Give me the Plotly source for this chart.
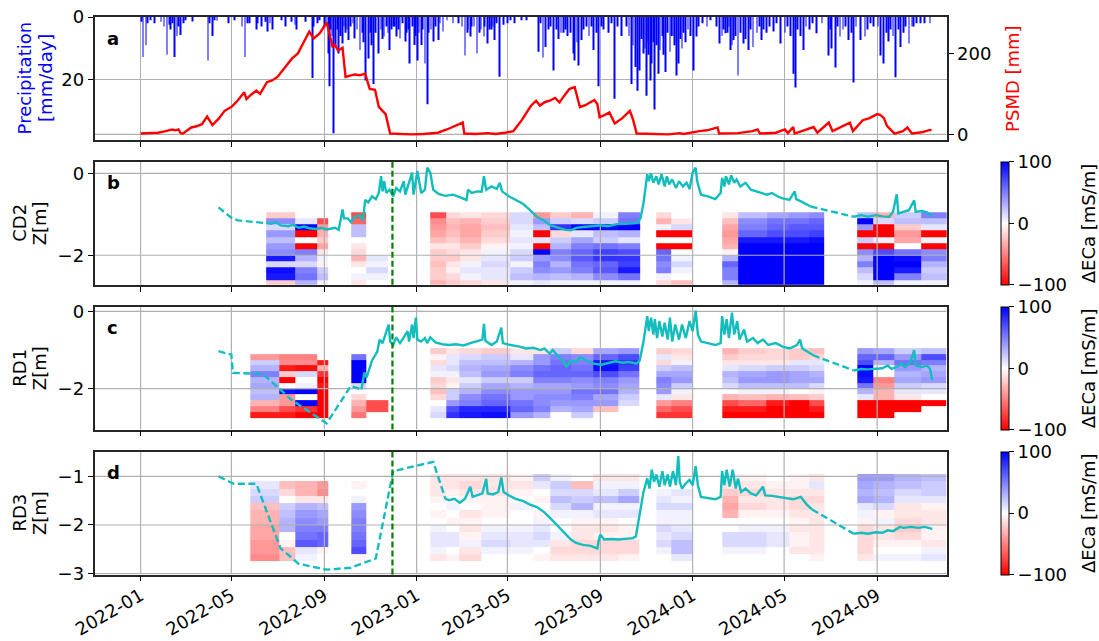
import plotly.graph_objects as go

W, H = 1099, 641
FONT = "DejaVu Sans"
FS = 18

# ---------------- panel a: daily precipitation [mm/day] ----------------
PRECIP_DATES = [
    "2022-01-02", "2022-01-04", "2022-01-08", "2022-01-10", "2022-01-14", "2022-01-19", "2022-01-28",
    "2022-02-01", "2022-02-05", "2022-02-08", "2022-02-10", "2022-02-12", "2022-02-15", "2022-02-18",
    "2022-02-20", "2022-02-23", "2022-02-27", "2022-03-01", "2022-03-11", "2022-03-31", "2022-04-02",
    "2022-04-06", "2022-04-09", "2022-04-12", "2022-04-27", "2022-05-05", "2022-05-15", "2022-05-19",
    "2022-05-22", "2022-05-25", "2022-06-03", "2022-06-05", "2022-06-10", "2022-06-15", "2022-06-18",
    "2022-06-21", "2022-06-24", "2022-07-06", "2022-07-12", "2022-07-20", "2022-07-24", "2022-07-26",
    "2022-08-07", "2022-08-16", "2022-08-18", "2022-08-23", "2022-08-26", "2022-09-01", "2022-09-03",
    "2022-09-06", "2022-09-08", "2022-09-09", "2022-09-11", "2022-09-13", "2022-09-16", "2022-09-18",
    "2022-09-20", "2022-09-22", "2022-09-25", "2022-09-27", "2022-09-29", "2022-10-01", "2022-10-03",
    "2022-10-06", "2022-10-09", "2022-10-11", "2022-10-14", "2022-10-18", "2022-10-21", "2022-10-23",
    "2022-10-25", "2022-10-29", "2022-11-01", "2022-11-02", "2022-11-05", "2022-11-08", "2022-11-12",
    "2022-11-15", "2022-11-17", "2022-11-19", "2022-11-22", "2022-11-24", "2022-11-26", "2022-11-29",
    "2022-12-01", "2022-12-03", "2022-12-05", "2022-12-08", "2022-12-10", "2022-12-13", "2022-12-17",
    "2022-12-19", "2022-12-21", "2022-12-23", "2022-12-27", "2022-12-29", "2022-12-31", "2023-01-02",
    "2023-01-04", "2023-01-07", "2023-01-09", "2023-01-12", "2023-01-15", "2023-01-17", "2023-01-20",
    "2023-01-23", "2023-01-26", "2023-01-30", "2023-02-01", "2023-02-05", "2023-02-10", "2023-02-18",
    "2023-02-25", "2023-03-02", "2023-03-06", "2023-03-09", "2023-03-10", "2023-03-13", "2023-03-15",
    "2023-03-18", "2023-03-22", "2023-03-25", "2023-03-27", "2023-03-31", "2023-04-01", "2023-04-05",
    "2023-04-07", "2023-04-10", "2023-04-12", "2023-04-14", "2023-04-17", "2023-04-21", "2023-04-26",
    "2023-05-01", "2023-05-05", "2023-05-10", "2023-05-20", "2023-05-26", "2023-06-11", "2023-06-14",
    "2023-06-17", "2023-06-20", "2023-06-24", "2023-06-27", "2023-07-01", "2023-07-05", "2023-07-08",
    "2023-07-11", "2023-07-14", "2023-07-17", "2023-07-20", "2023-07-23", "2023-07-27", "2023-07-29",
    "2023-08-01", "2023-08-03", "2023-08-07", "2023-08-10", "2023-08-14", "2023-08-17", "2023-08-20",
    "2023-08-23", "2023-08-27", "2023-08-30", "2023-09-02", "2023-09-05", "2023-09-12", "2023-09-16",
    "2023-09-20", "2023-09-24", "2023-09-29", "2023-10-06", "2023-10-09", "2023-10-12", "2023-10-14",
    "2023-10-17", "2023-10-20", "2023-10-23", "2023-10-25", "2023-10-28", "2023-10-30", "2023-11-01",
    "2023-11-03", "2023-11-04", "2023-11-06", "2023-11-08", "2023-11-10", "2023-11-12", "2023-11-14",
    "2023-11-17", "2023-11-19", "2023-11-22", "2023-11-23", "2023-11-26", "2023-11-29", "2023-12-02",
    "2023-12-04", "2023-12-06", "2023-12-08", "2023-12-11", "2023-12-13", "2023-12-16", "2023-12-18",
    "2023-12-20", "2023-12-23", "2023-12-26", "2023-12-29", "2024-01-02", "2024-01-06", "2024-01-09",
    "2024-01-14", "2024-01-20", "2024-01-25", "2024-02-02", "2024-02-06", "2024-02-09", "2024-02-11",
    "2024-02-13", "2024-02-16", "2024-02-18", "2024-02-20", "2024-02-22", "2024-02-24", "2024-02-27",
    "2024-03-01", "2024-03-04", "2024-03-08", "2024-03-11", "2024-03-15", "2024-03-18", "2024-03-21",
    "2024-03-26", "2024-03-29", "2024-04-01", "2024-04-04", "2024-04-08", "2024-04-12", "2024-04-17",
    "2024-04-21", "2024-04-26", "2024-05-02", "2024-05-05", "2024-05-09", "2024-05-13", "2024-05-16",
    "2024-05-19", "2024-05-23", "2024-05-27", "2024-05-30", "2024-06-04", "2024-06-08", "2024-06-13",
    "2024-06-20", "2024-06-29", "2024-07-01", "2024-07-03", "2024-07-08", "2024-07-11", "2024-07-14",
    "2024-07-18", "2024-07-21", "2024-07-25", "2024-07-29", "2024-08-01", "2024-08-04", "2024-08-10",
    "2024-08-16", "2024-08-19", "2024-08-23", "2024-08-27", "2024-09-02", "2024-09-05", "2024-09-09",
    "2024-09-13", "2024-09-16", "2024-09-19", "2024-09-22", "2024-09-25", "2024-09-29", "2024-10-02",
    "2024-10-06", "2024-10-09", "2024-10-13", "2024-10-17", "2024-10-19", "2024-10-23", "2024-10-28",
    "2024-11-03", "2024-11-10",
]
PRECIP_MM = [
    1.5, 12.7, 9.0, 2.0, 1.0, 2.0, 1.5,
    3.0, 12.0, 2.5, 4.0, 2.0, 12.7, 6.0,
    3.0, 5.7, 2.0, 1.0, 1.4, 13.8, 2.0,
    6.0, 1.0, 1.2, 2.0, 1.0, 3.0, 12.7,
    2.0, 2.0, 4.0, 2.0, 3.0, 1.5, 4.6,
    2.0, 4.0, 1.0, 3.0, 1.5, 2.5, 4.0,
    1.5, 19.4, 3.0, 2.0, 1.0, 3.0, 2.0,
    11.6, 22.0, 4.0, 6.0, 36.9, 9.5, 4.0,
    11.6, 6.0, 8.4, 3.0, 5.0, 4.0, 7.3,
    3.0, 2.0, 6.8, 4.0, 10.5, 5.0, 8.0,
    20.2, 13.2, 5.0, 9.0, 21.3, 5.0, 11.6,
    4.0, 7.0, 6.2, 3.0, 5.0, 10.5, 4.0,
    3.0, 3.0, 6.2, 4.0, 6.8, 2.0, 7.8,
    5.0, 4.0, 14.8, 3.0, 8.9, 6.0, 13.8,
    5.0, 8.9, 4.0, 14.8, 27.7, 5.0, 4.0,
    7.8, 3.0, 7.3, 2.0, 4.6, 1.0, 2.0,
    2.0, 3.0, 12.2, 5.0, 4.0, 6.2, 3.0,
    3.0, 11.6, 5.0, 4.0, 6.2, 3.0, 8.4,
    4.0, 4.0, 3.0, 7.3, 2.0, 19.0, 2.5,
    2.0, 1.0, 2.0, 1.0, 1.0, 11.0, 2.0,
    12.9, 9.5, 4.0, 3.0, 17.0, 4.0, 7.0,
    5.0, 5.0, 4.0, 6.0, 5.0, 11.6, 13.8,
    8.0, 15.4, 7.3, 4.0, 3.0, 6.0, 3.0,
    10.5, 5.0, 22.0, 3.0, 4.0, 5.0, 2.0,
    26.0, 3.0, 6.0, 3.0, 6.0, 21.3, 9.0,
    15.9, 23.4, 17.0, 7.0, 11.6, 10.0, 25.0,
    8.0, 12.0, 20.2, 14.8, 8.0, 29.4, 9.0,
    18.0, 10.5, 6.0, 12.0, 17.5, 5.0, 11.0,
    6.0, 6.0, 9.0, 18.6, 14.8, 7.0, 10.0,
    5.0, 8.0, 4.0, 6.0, 17.0, 6.2, 3.0,
    2.0, 3.0, 1.0, 3.0, 8.4, 6.0, 4.0,
    5.2, 5.0, 3.0, 10.5, 9.0, 7.3, 6.0,
    18.6, 5.0, 8.4, 7.0, 10.5, 4.0, 9.5,
    5.0, 3.0, 7.3, 4.0, 5.0, 3.0, 4.6,
    2.0, 8.4, 5.0, 3.0, 6.0, 18.0, 22.4,
    4.0, 6.0, 10.5, 3.0, 4.0, 2.0, 5.2,
    2.0, 12.2, 4.0, 10.0, 16.0, 3.0, 6.2,
    4.0, 3.0, 7.3, 5.0, 20.8, 3.0, 7.3,
    6.2, 4.0, 2.0, 3.0, 3.0, 12.2, 14.8,
    5.0, 7.8, 4.0, 6.0, 19.1, 4.0, 9.5,
    5.0, 3.0, 8.4, 3.0, 3.0, 2.0, 2.0,
    2.0, 2.0,
]

# ---------------- panel a: potential soil moisture deficit [mm] ----------------
PSMD_DATES = [
    "2022-01-01", "2022-01-12", "2022-01-24", "2022-02-03", "2022-02-12", "2022-02-16", "2022-02-20",
    "2022-02-23", "2022-02-26", "2022-03-09", "2022-03-16", "2022-03-23", "2022-03-30", "2022-04-06",
    "2022-04-14", "2022-04-22", "2022-05-02", "2022-05-10", "2022-05-18", "2022-05-21", "2022-05-27",
    "2022-06-03", "2022-06-08", "2022-06-17", "2022-06-24", "2022-07-01", "2022-07-10", "2022-07-20",
    "2022-07-28", "2022-08-05", "2022-08-12", "2022-08-18", "2022-08-26", "2022-09-04", "2022-09-09",
    "2022-09-12", "2022-09-15", "2022-09-19", "2022-09-25", "2022-09-29", "2022-10-05", "2022-10-11",
    "2022-10-18", "2022-10-25", "2022-10-31", "2022-11-07", "2022-11-12", "2022-11-21", "2022-11-27",
    "2022-12-10", "2022-12-25", "2023-01-10", "2023-01-29", "2023-02-10", "2023-02-20", "2023-03-03",
    "2023-03-05", "2023-03-20", "2023-04-05", "2023-04-15", "2023-04-28", "2023-05-09", "2023-05-20",
    "2023-06-01", "2023-06-08", "2023-06-13", "2023-06-20", "2023-06-26", "2023-07-03", "2023-07-09",
    "2023-07-15", "2023-07-22", "2023-07-29", "2023-08-05", "2023-08-12", "2023-08-18", "2023-08-24",
    "2023-08-28", "2023-08-31", "2023-09-07", "2023-09-13", "2023-09-20", "2023-09-30", "2023-10-10",
    "2023-10-14", "2023-10-19", "2023-11-10", "2023-11-30", "2023-12-15", "2023-12-20", "2024-01-10",
    "2024-01-20", "2024-02-03", "2024-02-05", "2024-03-01", "2024-03-20", "2024-03-27", "2024-03-30",
    "2024-04-20", "2024-05-02", "2024-05-06", "2024-05-13", "2024-05-15", "2024-06-01", "2024-06-09",
    "2024-06-14", "2024-06-29", "2024-07-04", "2024-07-15", "2024-07-27", "2024-07-31", "2024-08-13",
    "2024-08-22", "2024-09-01", "2024-09-05", "2024-09-10", "2024-09-14", "2024-09-20", "2024-09-24",
    "2024-10-05", "2024-10-11", "2024-10-17", "2024-10-30", "2024-11-10", "2024-11-12",
]
PSMD_MM = [
    2, 3, 4, 8, 12, 10, 12,
    3, 2, 17, 20, 25, 44, 23,
    38, 58, 69, 85, 104, 87, 98,
    108, 100, 129, 133, 142, 163, 187,
    200, 230, 254, 237, 250, 277, 233,
    215, 221, 207, 214, 142, 145, 148,
    146, 150, 112, 110, 68, 50, 2,
    1, 0, 1, 4, 12, 20, 29,
    2, 1, 3, 1, 4, 8, 35,
    70, 83, 71, 80, 83, 90, 79,
    95, 112, 117, 67, 72, 79, 85,
    75, 42, 48, 54, 27, 40, 58,
    38, 2, 1, 0, 3, 1, 8,
    10, 17, 2, 3, 8, 12, 2,
    4, 12, 3, 18, 2, 12, 18,
    4, 29, 8, 18, 29, 8, 35,
    40, 50, 48, 40, 21, 8, 2,
    8, 17, 2, 5, 11, 10,
]

# ---------------- ΔECa surveys [mS/m] ----------------
# Survey bins (edges); the first bins differ between CD2 and the RD profiles.
SHARED_EDGES = [
    "2022-08-22", "2022-09-06", "2022-10-06", "2022-10-26", "2022-11-24", "2023-01-19", "2023-02-09",
    "2023-02-27", "2023-03-27", "2023-05-05", "2023-06-04", "2023-06-27", "2023-07-24", "2023-08-22",
    "2023-09-25", "2023-10-23", "2023-11-14", "2023-12-04", "2023-12-31", "2024-02-09", "2024-03-01",
    "2024-04-08", "2024-05-08", "2024-06-03", "2024-06-23", "2024-08-06", "2024-08-27", "2024-09-24",
    "2024-10-29", "2024-12-02",
]
CD2_FIRST_EDGES = ["2022-06-16", "2022-07-25"]
RD_FIRST_EDGES = ["2022-05-26", "2022-07-04", "2022-07-25"]

# depth layer edges [m], deepest first
DEPTH_EDGES = [-2.75, -2.60, -2.45, -2.30, -2.15, -2.00, -1.85, -1.70, -1.55, -1.40, -1.25, -1.10, -0.95]

N = None
EMPTY = [N, N, N, N, N, N, N, N, N, N, N, N]

# one list per survey bin, values from shallow (-0.95 m) to deep (-2.75 m)
CD2_ECA = [
    [-20, 45, 15, 40, 25, 40, 45, 90, 15, 95, 90, -20],
    [N, 10, 100, -100, 0, -100, 50, 30, 15, 50, 55, 30],
    [N, -70, -40, -30, -20, -35, -10, 5, -5, 20, 25, 5],
    EMPTY,
    [-70, -60, 25, 25, 0, -10, -15, -30, -10, 0, 5, -10],
    [N, N, N, N, N, N, N, 10, 5, 15, 5, 0],
    EMPTY,
    [-70, -45, -40, -35, -25, -10, -20, -20, -25, -20, -20, -30],
    [-15, -25, -30, -25, -20, -10, -15, -20, -10, -5, -15, -20],
    [-10, -30, -35, -35, -30, -20, -10, -10, 5, 10, 5, -15],
    [-15, -20, -25, -20, -15, -5, 5, 10, 15, 10, 10, -10],
    [15, 15, 10, 5, 10, 5, 15, 20, 5, 20, 25, 5],
    [-40, 40, 25, -100, 10, -100, 100, 40, 50, 45, 30, 10],
    [-20, 20, 80, -15, 20, 30, 50, 45, 30, 40, 25, 5],
    [-30, 15, 100, 10, 35, 50, 60, 65, 55, 50, 30, 5],
    [5, 20, 95, 25, 20, 55, 75, 80, 60, 65, 45, 5],
    [50, 55, 100, 30, 10, 50, 70, 80, 75, 90, 55, 5],
    EMPTY,
    [-15, -30, 5, -100, 0, -100, 60, 55, 45, 50, 5, -15],
    [0, -10, 15, -100, 0, -100, 0, 5, 15, 5, 0, -25],
    EMPTY,
    [-10, -25, -35, -40, -35, -30, -5, 30, 60, 50, 50, 30],
    [25, 45, 50, 60, 90, 100, 100, 100, 100, 100, 100, 100],
    [35, 55, 60, 70, 90, 100, 100, 100, 100, 100, 100, 100],
    [40, 55, 65, 70, 90, 100, 100, 100, 100, 100, 100, 100],
    [45, 60, 65, 75, 95, 100, 100, 100, 100, 100, 100, 100],
    EMPTY,
    [25, 100, 40, -100, 20, -100, 45, 30, 50, 25, 15, 5],
    [-30, 15, -100, -100, 5, -100, 70, 100, 100, 100, 100, 25],
    [20, 25, -20, -40, -35, 0, 55, 95, 100, 90, 50, 5],
    [50, 25, 10, -100, 5, -100, 45, 50, 30, 20, 25, 5],
]

RD1_ECA = [
    [N, -40, 20, 30, 50, 30, 35, 25, 30, -30, -50, -90],
    [N, -50, -45, -90, -20, -100, 0, 95, -40, -40, -70, -90],
    [N, -50, -45, -95, 15, 0, 5, 100, 0, 100, -80, -100],
    [N, N, -90, -30, -80, -100, -90, -100, -100, -100, -100, -100],
    EMPTY,
    [N, 55, 100, 100, 100, 100, 15, 0, -15, -30, -40, -55],
    [N, N, N, N, N, N, N, N, N, -70, -70, N],
    EMPTY,
    [-20, -5, -15, 10, 5, -20, -15, -25, -15, 0, 10, 15],
    [-10, 10, 10, 15, 5, -10, -5, 20, 20, 40, 70, 80],
    [-15, 15, 25, 30, 25, 10, 20, 30, 45, 50, 85, 90],
    [-20, 20, 25, 35, 40, 20, 35, 45, 55, 60, 85, 95],
    [-10, 10, 30, 45, 50, 20, 30, 40, 40, 55, 60, 40],
    [-10, 40, 40, 55, 60, 50, 35, 40, 45, 45, 50, 30],
    [20, 50, 55, 60, 60, 50, 35, 40, 45, 40, 30, N],
    [-15, 45, 50, 55, 60, 45, 40, 55, 50, 40, 35, 20],
    [35, 60, 90, 95, 70, 50, 45, 55, 35, 40, -25, N],
    [40, 70, 80, 75, 55, 40, 35, 30, 20, 15, N, N],
    EMPTY,
    [-20, 10, -15, 20, 35, 50, 45, 40, 10, -40, -60, -80],
    [-15, -10, 5, 25, 35, 40, 20, 5, -10, -50, -70, -80],
    EMPTY,
    [-30, -20, -10, 10, 30, 25, 15, 0, -30, -70, -90, -100],
    [-20, -15, -10, 15, 35, 40, 25, 5, -25, -60, -90, -100],
    [-15, -15, -10, 20, 40, 40, 25, 5, -30, -90, -100, -100],
    [-20, -20, 10, 20, 35, 35, 25, 0, -25, -100, -100, -100],
    [-25, -15, 10, 15, 30, 35, 15, -5, -20, -70, -90, -100],
    EMPTY,
    [40, 60, 70, 100, 95, 90, 55, 30, 10, -100, -100, -100],
    [35, 60, 30, 0, 0, -50, -40, -30, -30, -100, -100, -100],
    [20, 40, 55, 40, 30, 35, 20, 10, -10, -100, -100, N],
    [25, 70, 50, 30, 35, 40, 15, 10, N, -100, N, N],
]

RD3_ECA = [
    [N, 10, 15, 20, -25, -30, -30, -35, -35, -40, -40, -45],
    [N, -25, -15, 0, 20, 25, 30, 30, 0, -5, -25, -25],
    [N, -30, -30, -10, 30, 40, 45, 50, 55, 65, 10, 5],
    [N, -40, -45, -10, 25, 35, 40, 50, 60, 60, -5, N],
    EMPTY,
    [N, -5, 0, 5, 40, 45, 50, 50, 55, 60, 70, -5],
    EMPTY,
    EMPTY,
    [-10, -10, -10, -5, 0, -5, 0, 5, 10, 10, 5, -10],
    [-10, -10, -5, 0, 5, 0, -5, 0, 10, 10, 0, -5],
    [-10, -15, -10, -5, 0, -10, -5, -10, -5, 5, -10, -15],
    [-10, -10, -10, -5, -5, -5, 0, 5, 10, 15, 5, 0],
    [-5, -10, -5, 0, 5, 0, 0, 5, 10, 10, 5, 0],
    [20, 10, 0, -5, 0, -5, 5, 10, 15, 10, 0, -5],
    [5, 20, 15, 25, 15, 5, 0, 0, 5, -10, -15, -10],
    [0, -25, 15, 20, 30, 5, -5, -10, -10, -15, -15, -10],
    [-10, 5, 10, 25, 5, 10, -5, -10, -5, -15, -15, -10],
    [-10, 5, 20, 35, 5, 10, 0, -5, -5, -15, -15, -5],
    EMPTY,
    [N, N, 5, 10, 15, 5, 5, 15, 10, 15, 5, 0],
    [N, N, 10, 5, 15, 5, 5, 10, 15, 25, 25, 10],
    EMPTY,
    [-5, -10, -20, -30, -35, -30, 0, 0, 15, 15, 5, 0],
    [-5, -10, -15, -10, -15, -5, 0, 5, 15, 15, 5, 0],
    [0, -5, -10, -10, -10, -5, 0, 5, 10, 10, 0, 0],
    [-5, -5, -10, -15, -15, -10, -5, -10, -5, -5, -10, 0],
    [-10, 10, -10, -15, -10, -10, -10, -10, -10, -10, -10, -5],
    EMPTY,
    [40, 35, 30, 35, 10, 5, -5, -15, -15, -15, -15, -10],
    [40, 30, 25, 30, 15, -5, 5, -10, -10, -5, 0, 5],
    [30, 25, 15, 10, -10, -10, -15, -20, -15, -5, 0, 5],
    [25, 20, 20, 10, -5, -10, -10, -5, -5, -10, 5, 10],
]

# ---------------- groundwater level Z [m] ----------------
# measured (solid) series; None marks the logger gap in summer 2024
CD2_Z_DATES = [
    "2022-06-24", "2022-06-29", "2022-07-05", "2022-07-15", "2022-07-22", "2022-07-29", "2022-08-05",
    "2022-08-12", "2022-08-21", "2022-08-28", "2022-09-04", "2022-09-10", "2022-09-15", "2022-09-20",
    "2022-09-25", "2022-09-27", "2022-10-02", "2022-10-06", "2022-10-11", "2022-10-18", "2022-10-22",
    "2022-10-25", "2022-10-29", "2022-11-03", "2022-11-08", "2022-11-12", "2022-11-15", "2022-11-17",
    "2022-11-19", "2022-11-22", "2022-11-26", "2022-12-01", "2022-12-05", "2022-12-10", "2022-12-15",
    "2022-12-17", "2022-12-22", "2022-12-26", "2022-12-28", "2023-01-02", "2023-01-07", "2023-01-12",
    "2023-01-15", "2023-01-19", "2023-01-23", "2023-01-30", "2023-02-08", "2023-02-18", "2023-02-27",
    "2023-03-04", "2023-03-08", "2023-03-10", "2023-03-15", "2023-03-22", "2023-03-28", "2023-03-31",
    "2023-04-03", "2023-04-10", "2023-04-17", "2023-04-21", "2023-04-24", "2023-05-03", "2023-05-12",
    "2023-05-22", "2023-05-31", "2023-06-09", "2023-06-19", "2023-06-27", "2023-07-08", "2023-07-17",
    "2023-07-24", "2023-07-31", "2023-08-09", "2023-08-23", "2023-09-01", "2023-09-11", "2023-09-23",
    "2023-10-05", "2023-10-19", "2023-10-24", "2023-10-28", "2023-11-02", "2023-11-04", "2023-11-07",
    "2023-11-10", "2023-11-14", "2023-11-17", "2023-11-21", "2023-11-25", "2023-11-28", "2023-12-01",
    "2023-12-05", "2023-12-10", "2023-12-14", "2023-12-19", "2023-12-24", "2023-12-28", "2024-01-01",
    "2024-01-05", "2024-01-07", "2024-01-12", "2024-01-21", "2024-01-31", "2024-02-07", "2024-02-09",
    "2024-02-12", "2024-02-14", "2024-02-18", "2024-02-21", "2024-02-25", "2024-02-28", "2024-03-04",
    "2024-03-11", "2024-03-18", "2024-03-25", "2024-04-01", "2024-04-08", "2024-04-15", "2024-04-22",
    "2024-04-29", "2024-05-08", "2024-05-15", "2024-05-17", "2024-05-24", "2024-05-31", "2024-06-05",
    "2024-07-01",
    "2024-08-01", "2024-08-11", "2024-08-20", "2024-08-30", "2024-09-08", "2024-09-17", "2024-09-22",
    "2024-09-27", "2024-09-29", "2024-10-06", "2024-10-13", "2024-10-20", "2024-10-22", "2024-10-30",
    "2024-11-06", "2024-11-13",
]
CD2_Z = [
    -1.23, -1.19, -1.27, -1.29, -1.26, -1.33, -1.30,
    -1.34, -1.36, -1.33, -1.37, -1.35, -1.33, -1.38,
    -0.88, -1.10, -1.10, -1.19, -1.06, -1.02, -1.15,
    -0.65, -0.71, -0.56, -0.63, -0.48, -0.07, -0.44,
    -0.19, -0.48, -0.40, -0.56, -0.36, -0.44, -0.19,
    -0.52, -0.23, 0.02, -0.52, 0.06, -0.48, -0.40,
    0.14, 0.02, -0.40, -0.50, -0.55, -0.52, -0.58,
    -0.63, -0.65, -0.40, -0.48, -0.44, -0.45, -0.07,
    -0.40, -0.32, -0.38, -0.23, -0.44, -0.56, -0.65,
    -0.75, -0.90, -1.06, -1.16, -1.27, -1.33, -1.38,
    -1.39, -1.33, -1.31, -1.29, -1.27, -1.29, -1.24,
    -1.23, -1.21, -1.10, -0.73, -0.02, -0.19, 0.00,
    -0.23, -0.07, -0.27, -0.02, -0.32, -0.07, -0.27,
    -0.15, -0.36, -0.19, -0.32, -0.23, -0.38, 0.02,
    0.14, -0.19, -0.52, -0.56, -0.63, -0.48, -0.11,
    -0.32, -0.07, -0.27, -0.05, -0.23, -0.15, -0.32,
    -0.23, -0.40, -0.44, -0.48, -0.52, -0.48, -0.56,
    -0.61, -0.65, -0.44, -0.63, -0.69, -0.77, -0.81,
    None,
    -1.06, -1.02, -1.06, -1.02, -1.05, -1.06, -0.94,
    -0.51, -0.98, -0.94, -0.90, -0.66, -0.94, -0.92,
    -0.95, -1.04,
]
# gap-filled (dashed) series
CD2_ZI_DATES = ["2022-04-14", "2022-05-02", "2022-05-10", "2022-06-24", "2024-06-01", "2024-06-05", "2024-08-01"]
CD2_ZI = [-0.83, -1.10, -1.15, -1.23, None, -0.81, -1.06]

RD1_Z_DATES = [
    "2022-10-20", "2022-10-24", "2022-10-27", "2022-11-03", "2022-11-10", "2022-11-13", "2022-11-17",
    "2022-11-21", "2022-11-25", "2022-11-27", "2022-12-01", "2022-12-05", "2022-12-10", "2022-12-15",
    "2022-12-20", "2022-12-22", "2022-12-26", "2022-12-28", "2022-12-31", "2023-01-02", "2023-01-07",
    "2023-01-12", "2023-01-15", "2023-01-19", "2023-01-26", "2023-02-04", "2023-02-13", "2023-02-22",
    "2023-03-04", "2023-03-13", "2023-03-22", "2023-03-29", "2023-03-31", "2023-04-02", "2023-04-10",
    "2023-04-17", "2023-04-23", "2023-04-25", "2023-05-05", "2023-05-17", "2023-05-26", "2023-06-04",
    "2023-06-14", "2023-06-19", "2023-06-26", "2023-06-30", "2023-07-08", "2023-07-15", "2023-07-18",
    "2023-07-24", "2023-07-31", "2023-08-05", "2023-08-14", "2023-08-23", "2023-09-02", "2023-09-11",
    "2023-09-21", "2023-09-30", "2023-10-09", "2023-10-19", "2023-10-23", "2023-10-28", "2023-11-02",
    "2023-11-04", "2023-11-07", "2023-11-10", "2023-11-12", "2023-11-15", "2023-11-18", "2023-11-22",
    "2023-11-25", "2023-11-29", "2023-12-02", "2023-12-05", "2023-12-09", "2023-12-14", "2023-12-18",
    "2023-12-23", "2023-12-28", "2024-01-01", "2024-01-05", "2024-01-08", "2024-01-12", "2024-01-21",
    "2024-01-31", "2024-02-07", "2024-02-09", "2024-02-12", "2024-02-15", "2024-02-18", "2024-02-22",
    "2024-02-25", "2024-02-29", "2024-03-03", "2024-03-09", "2024-03-13", "2024-03-21", "2024-03-27",
    "2024-04-03", "2024-04-10", "2024-04-20", "2024-04-29", "2024-05-08", "2024-05-18", "2024-05-22",
    "2024-05-25", "2024-05-31", "2024-06-08",
    "2024-07-01",
    "2024-08-01", "2024-08-11", "2024-08-20", "2024-08-30", "2024-09-08", "2024-09-15", "2024-09-20",
    "2024-09-27", "2024-10-03", "2024-10-08", "2024-10-15", "2024-10-20", "2024-10-22", "2024-10-30",
    "2024-11-06", "2024-11-10", "2024-11-13",
]
RD1_Z = [
    -2.02, -1.58, -1.71, -1.27, -1.04, -0.73, -0.82,
    -0.60, -0.34, -0.78, -0.87, -0.67, -0.82, -0.67,
    -0.51, -0.78, -0.34, -0.69, -0.16, -0.73, -0.78,
    -0.69, -0.82, -0.67, -0.80, -0.85, -0.87, -0.85,
    -0.88, -0.82, -0.78, -0.73, -0.32, -0.76, -0.87,
    -0.78, -0.42, -0.82, -0.87, -0.91, -0.96, -0.94,
    -1.00, -0.96, -1.09, -1.00, -1.18, -1.31, -1.44,
    -1.27, -1.31, -1.18, -1.27, -1.35, -1.38, -1.33,
    -1.29, -1.33, -1.31, -1.35, -1.27, -0.78, -0.12,
    -0.51, -0.16, -0.60, -0.20, -0.69, -0.25, -0.65,
    -0.29, -0.73, -0.16, -0.78, -0.34, -0.73, -0.34,
    -0.69, -0.25, -0.51, 0.02, -0.60, -0.78, -0.82,
    -0.87, -0.82, -0.12, -0.60, -0.20, -0.69, -0.03,
    -0.60, -0.25, -0.73, -0.47, -0.78, -0.69, -0.82,
    -0.73, -0.87, -0.82, -0.91, -0.96, -0.87, -0.73,
    -0.96, -1.04, -1.13,
    None,
    -1.53, -1.49, -1.50, -1.49, -1.47, -1.40, -1.49,
    -1.44, -1.35, -1.44, -1.31, -1.00, -1.40, -1.44,
    -1.40, -1.49, -1.78,
]
RD1_ZI_DATES = ["2022-04-14", "2022-05-01", "2022-05-03", "2022-06-12", "2022-07-19", "2022-09-04",
                "2022-10-06", "2022-10-20", "2024-06-01", "2024-06-08", "2024-08-01"]
RD1_ZI = [-1.03, -1.12, -1.59, -1.62, -2.28, -2.90, -1.93, -2.02, None, -1.13, -1.53]

RD3_Z_DATES = [
    "2023-02-08", "2023-02-13", "2023-02-20", "2023-02-27", "2023-03-06", "2023-03-13", "2023-03-16",
    "2023-03-22", "2023-03-29", "2023-04-03", "2023-04-05", "2023-04-12", "2023-04-19", "2023-04-23",
    "2023-04-26", "2023-05-03", "2023-05-12", "2023-05-22", "2023-05-31", "2023-06-09", "2023-06-19",
    "2023-06-28", "2023-07-08", "2023-07-17", "2023-07-24", "2023-07-31", "2023-08-09", "2023-08-19",
    "2023-08-28", "2023-08-30", "2023-09-01", "2023-09-06", "2023-09-16", "2023-09-25", "2023-10-05",
    "2023-10-14", "2023-10-18", "2023-10-23", "2023-10-28", "2023-11-02", "2023-11-05", "2023-11-08",
    "2023-11-11", "2023-11-14", "2023-11-18", "2023-11-22", "2023-11-25", "2023-11-29", "2023-12-02",
    "2023-12-06", "2023-12-10", "2023-12-13", "2023-12-15", "2023-12-18", "2023-12-23", "2023-12-28",
    "2024-01-01", "2024-01-05", "2024-01-08", "2024-01-12", "2024-01-21", "2024-01-31", "2024-02-07",
    "2024-02-09", "2024-02-12", "2024-02-15", "2024-02-19", "2024-02-23", "2024-02-27", "2024-03-01",
    "2024-03-05", "2024-03-11", "2024-03-18", "2024-03-25", "2024-04-03", "2024-04-06", "2024-04-15",
    "2024-04-24", "2024-05-04", "2024-05-13", "2024-05-23", "2024-05-27", "2024-05-31", "2024-06-07",
    "2024-07-01",
    "2024-08-01", "2024-08-11", "2024-08-20", "2024-08-30", "2024-09-08", "2024-09-15", "2024-09-22",
    "2024-09-27", "2024-10-01", "2024-10-06", "2024-10-16", "2024-10-25", "2024-11-03", "2024-11-13",
]
RD3_Z = [
    -1.46, -1.49, -1.46, -1.54, -1.46, -1.21, -1.42,
    -1.39, -1.35, -1.05, -1.35, -1.37, -1.32, -1.02,
    -1.32, -1.39, -1.46, -1.51, -1.58, -1.63, -1.74,
    -1.88, -2.04, -2.20, -2.30, -2.37, -2.41, -2.43,
    -2.48, -2.30, -2.20, -2.30, -2.29, -2.30, -2.29,
    -2.27, -2.23, -1.74, -1.32, -1.04, -1.25, -0.86,
    -1.11, -0.96, -1.21, -0.89, -1.18, -0.96, -1.21,
    -0.89, -1.18, -0.58, -1.11, -1.25, -1.14, -1.07,
    -1.18, -0.79, -1.18, -1.42, -1.44, -1.47, -1.42,
    -0.89, -1.18, -0.86, -1.21, -0.86, -1.25, -1.04,
    -1.32, -1.25, -1.35, -1.39, -1.21, -1.39, -1.40,
    -1.42, -1.44, -1.47, -1.42, -1.51, -1.58, -1.68,
    None,
    -2.18, -2.16, -2.18, -2.15, -2.16, -2.11, -2.13,
    -2.08, -2.04, -2.06, -2.04, -2.06, -2.04, -2.08,
]
RD3_ZI_DATES = ["2022-04-14", "2022-05-04", "2022-06-03", "2022-07-05", "2022-07-29", "2022-09-04",
                "2022-10-06", "2022-11-08", "2022-12-01", "2023-01-23", "2023-02-08",
                "2024-06-01", "2024-06-07", "2024-08-01"]
RD3_ZI = [-1.00, -1.15, -1.15, -2.48, -2.80, -2.92, -2.88, -2.69, -0.89, -0.70, -1.46,
          None, -1.68, -2.18]

EVENT_DATE = "2022-11-30"

X_TICKS = ["2022-01-01", "2022-05-01", "2022-09-01", "2023-01-01", "2023-05-01",
           "2023-09-01", "2024-01-01", "2024-05-01", "2024-09-01"]
X_RANGE = ["2021-11-01", "2024-12-02"]

# ---------------- layout geometry (pixels) ----------------
X_DOMAIN = [94.5 / W, 946.7 / W]
PANELS = {"a": (17.0, 139.8), "b": (161.9, 284.7), "c": (306.8, 429.6), "d": (451.7, 574.5)}


def ydom(key):
    top, bottom = PANELS[key]
    return [1 - bottom / H, 1 - top / H]


def ymid(key):
    top, bottom = PANELS[key]
    return 1 - (top + bottom) / 2 / H


GRID = "#b0b0b0"
FRAME = "#262626"
CYAN = "#14BDBD"
ECA_SCALE = [[0.0, "#FF0000"], [0.5, "#FFFFFF"], [1.0, "#0000FF"]]

fig = go.Figure()

# panel a: one-day bars hanging from the top axis
fig.add_trace(go.Bar(
    x=PRECIP_DATES, y=PRECIP_MM, width=86400000,
    marker=dict(color="#0000FF", line=dict(width=0)),
    xaxis="x", yaxis="y", hoverinfo="skip",
))
fig.add_trace(go.Scatter(
    x=PSMD_DATES, y=PSMD_MM, mode="lines",
    line=dict(color="#FF0000", width=2.4), xaxis="x", yaxis="y2", hoverinfo="skip",
))

profiles = [
    ("b", CD2_FIRST_EDGES + SHARED_EDGES, CD2_ECA, CD2_Z_DATES, CD2_Z, CD2_ZI_DATES, CD2_ZI,
     "x2", "y3", [-2.72, 0.28], [0, -2]),
    ("c", RD_FIRST_EDGES + SHARED_EDGES, RD1_ECA, RD1_Z_DATES, RD1_Z, RD1_ZI_DATES, RD1_ZI,
     "x3", "y4", [-3.06, 0.12], [0, -2]),
    ("d", RD_FIRST_EDGES + SHARED_EDGES, RD3_ECA, RD3_Z_DATES, RD3_Z, RD3_ZI_DATES, RD3_ZI,
     "x4", "y5", [-3.02, -0.49], [-1, -2, -3]),
]

shapes = [
    dict(type="line", xref="x domain", yref="y2", x0=0, x1=1, y0=0, y1=0,
         line=dict(color=GRID, width=1.3), layer="below"),
]

for key, edges, cols, zd, zv, zid, ziv, xa, ya, yr, yt in profiles:
    nlay = len(DEPTH_EDGES) - 1
    zgrid = [[col[nlay - 1 - k] for col in cols] for k in range(nlay)]
    top, bottom = PANELS[key]
    fig.add_trace(go.Heatmap(
        x=edges, y=DEPTH_EDGES, z=zgrid, zmin=-100, zmax=100,
        colorscale=ECA_SCALE, xaxis=xa, yaxis=ya, hoverinfo="skip",
        colorbar=dict(
            x=1000.7 / W, xanchor="left", xpad=0, y=ymid(key), yanchor="middle", ypad=0,
            len=(bottom - top) / H, lenmode="fraction", thickness=7.5,
            outlinewidth=1, outlinecolor="black",
            tickvals=[-100, 0, 100], ticks="outside", ticklen=5, tickwidth=1.2, tickcolor="black",
            tickfont=dict(family=FONT, size=FS, color="black"),
        ),
    ))
    # grid drawn over the ECa cells but under the water-level line
    gx, gy = [], []
    for t in X_TICKS:
        gx += [t, t, None]
        gy += [yr[0], yr[1], None]
    for v in yt:
        gx += [X_RANGE[0], X_RANGE[1], None]
        gy += [v, v, None]
    fig.add_trace(go.Scatter(x=gx, y=gy, mode="lines", line=dict(color=GRID, width=1.2),
                             xaxis=xa, yaxis=ya, hoverinfo="skip"))
    fig.add_trace(go.Scatter(x=zid, y=ziv, mode="lines", connectgaps=False,
                             line=dict(color=CYAN, width=2.4, dash="7px,3.5px"),
                             xaxis=xa, yaxis=ya, hoverinfo="skip"))
    fig.add_trace(go.Scatter(x=zd, y=zv, mode="lines", connectgaps=False,
                             line=dict(color=CYAN, width=2.4),
                             xaxis=xa, yaxis=ya, hoverinfo="skip"))
    shapes.append(dict(type="line", xref=xa, yref=f"{ya} domain", x0=EVENT_DATE, x1=EVENT_DATE,
                       y0=0, y1=1, line=dict(color="#008000", width=2.2, dash="6px,3px"), layer="above"))

common_x = dict(
    type="date", range=X_RANGE, domain=X_DOMAIN, tickvals=X_TICKS, tickformat="%Y-%m",
    ticks="outside", ticklen=5, tickwidth=1.3, tickcolor="black",
    showline=True, linecolor=FRAME, linewidth=1.6, mirror=True, zeroline=False, automargin=False,
    tickfont=dict(family=FONT, size=FS, color="black"),
)
common_y = dict(
    ticks="outside", ticklen=5, tickwidth=1.3, tickcolor="black", automargin=False,
    showline=True, linecolor=FRAME, linewidth=1.6, zeroline=False,
    tickfont=dict(family=FONT, size=FS, color="black"),
)

layout = dict(
    width=W, height=H, autosize=False,
    margin=dict(l=0, r=0, t=0, b=0, pad=0, autoexpand=False),
    paper_bgcolor="white", plot_bgcolor="white", showlegend=False,
    font=dict(family=FONT, size=FS, color="black"),
    # a non-zero gap keeps the sub-pixel bar edges un-rounded (anti-aliased)
    bargap=0.1,
    xaxis=dict(common_x, anchor="y", showgrid=True, gridcolor=GRID, gridwidth=1.2, showticklabels=False),
    xaxis2=dict(common_x, anchor="y3", matches="x", showgrid=False, showticklabels=False),
    xaxis3=dict(common_x, anchor="y4", matches="x", showgrid=False, showticklabels=False),
    xaxis4=dict(common_x, anchor="y5", matches="x", showgrid=False, showticklabels=True,
                tickangle=-30, ticklabelstandoff=-3),
    yaxis=dict(common_y, domain=ydom("a"), anchor="x", range=[39, 0], tickvals=[0, 20],
               showgrid=True, gridcolor=GRID, gridwidth=1.2, mirror=False),
    yaxis2=dict(common_y, anchor="x", overlaying="y", side="right", range=[-13.5, 290],
                tickvals=[0, 200], showgrid=False),
    yaxis3=dict(common_y, domain=ydom("b"), anchor="x2", range=[-2.72, 0.28], tickvals=[0, -2],
                showgrid=False, mirror=True),
    yaxis4=dict(common_y, domain=ydom("c"), anchor="x3", range=[-3.06, 0.12], tickvals=[0, -2],
                showgrid=False, mirror=True),
    yaxis5=dict(common_y, domain=ydom("d"), anchor="x4", range=[-3.02, -0.49], tickvals=[-1, -2, -3],
                showgrid=False, mirror=True),
    shapes=shapes,
)


def label(text, xpx, key, color="black", angle=-90):
    return dict(
        text=text, x=xpx / W, y=ymid(key), xref="paper", yref="paper",
        xanchor="center", yanchor="middle", textangle=angle, showarrow=False,
        font=dict(family=FONT, size=FS, color=color),
    )


annotations = [
    label("Precipitation", 24, "a", "#0000FF"),
    label("[mm/day]", 45.5, "a", "#0000FF"),
    label("PSMD [mm]", 1012.5, "a", "#FF0000"),
    label("CD2", 19.5, "b"), label("Z[m]", 39, "b"),
    label("RD1", 19.5, "c"), label("Z[m]", 39, "c"),
    label("RD3", 19.5, "d"), label("Z[m]", 39, "d"),
]
for key in ("b", "c", "d"):
    annotations.append(label("ΔECa [mS/m]", 1088, key))
for key in ("a", "b", "c", "d"):
    top, _ = PANELS[key]
    annotations.append(dict(
        text=f"<b>{key}</b>", x=105 / W, y=1 - (top + 21) / H, xref="paper", yref="paper",
        xanchor="left", yanchor="middle", showarrow=False,
        font=dict(family=FONT, size=FS, color="black"),
    ))
layout["annotations"] = annotations

fig.update_layout(layout)
fig.write_html("out.html", post_script="document.body.style.margin = '0';")
